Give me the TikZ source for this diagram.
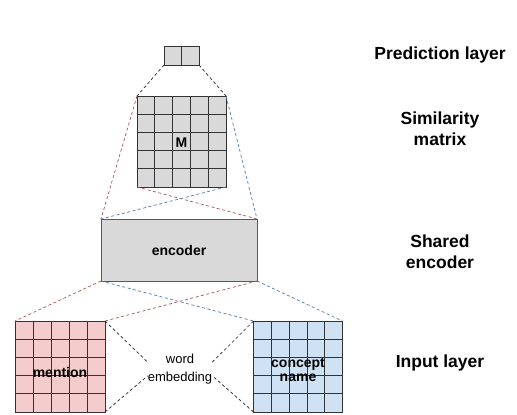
\documentclass[tikz,border=0pt]{standalone}
\usepackage{fontspec}
\setmainfont{Liberation Sans}
\usepackage{xcolor}
\usetikzlibrary{calc}
\definecolor{cellgray}{HTML}{D9D9D9}
\definecolor{cellpink}{HTML}{F4CCCC}
\definecolor{cellblue}{HTML}{CFE2F3}
\definecolor{linered}{HTML}{A65454}
\definecolor{lineblue}{HTML}{4F7CA3}
\tikzset{gridbox/.style={draw=black!80,line width=0.8pt,inner sep=0pt,outer sep=0pt},
 gridline/.style={draw=black!80,line width=0.8pt},
 link/.style={line width=0.7pt,dash pattern=on 3pt off 2.5pt},
 blacklink/.style={link,draw=black!85},
 redlink/.style={link,draw=linered},
 bluelink/.style={link,draw=lineblue},
 inlabel/.style={font=\fontsize{14}{16}\selectfont\bfseries,align=center},
 sidelabel/.style={font=\fontsize{17.5}{21}\selectfont\bfseries,align=center},
 }

\begin{document}
\begin{tikzpicture}[x=1pt,y=-1pt]
        \useasboundingbox (0,0) rectangle (517,415);

        % boxes
        \node[gridbox,fill=cellgray,minimum width=35pt,minimum height=19pt] (pred) at (181.5,55.5) {};
        \draw[gridline] (pred.north) -- (pred.south);

        \node[gridbox,fill=cellgray,minimum width=89pt,minimum height=91pt] (sim) at (181.5,141.5) {};
        \node[gridbox,fill=cellpink,minimum width=90pt,minimum height=91pt] (ment) at (60,366.5) {};
        \node[gridbox,fill=cellblue,minimum width=89pt,minimum height=91pt] (conc) at (298,366.5) {};
        \foreach \m in {sim,ment,conc}
            \foreach \i in {1,...,4} {
                \draw[gridline] ($(\m.north west)!\i/5!(\m.north east)$) -- ($(\m.south west)!\i/5!(\m.south east)$);
                \draw[gridline] ($(\m.north west)!\i/5!(\m.south west)$) -- ($(\m.north east)!\i/5!(\m.south east)$);
            }
        \node[inlabel] (simtext) at ($(sim.center)+(0,1.5)$) {M};
        \node[inlabel] (menttext) at ($(ment.center)+(0,5.5)$) {mention};
        \node[inlabel,inner sep=0pt] (conctext) at ($(conc.center)+(0,3)$) {concept\\[-2pt]name};

        \node[gridbox,fill=cellgray,draw=black!65,minimum width=156pt,minimum height=62pt,inlabel] (enc) at (179,250) {encoder};

        \node[align=center,font=\fontsize{13}{18}\selectfont,inner sep=0pt] (emb) at (180,369) {word\\embedding};

        % connectors
        \draw[blacklink] (pred.south west) -- (sim.north west);
        \draw[blacklink] (pred.south east) -- (sim.north east);

        \draw[redlink] (sim.north west) -- (enc.north west);
        \draw[redlink] (sim.south west) -- (enc.north east);
        \draw[bluelink] (sim.north east) -- (enc.north east);
        \draw[bluelink] (sim.south east) -- (enc.north west);

        \draw[redlink] (enc.south west) -- (ment.north west);
        \draw[redlink] (enc.south east) -- (ment.north east);
        \draw[bluelink] (enc.south west) -- (conc.north west);
        \draw[bluelink] (enc.south east) -- (conc.north east);

        \draw[blacklink] (ment.north east) -- (emb.168);
        \draw[blacklink] (ment.south east) -- (emb.192);
        \draw[blacklink] (conc.north west) -- (emb.12);
        \draw[blacklink] (conc.south west) -- (emb.348);

        % layer names
        \node[sidelabel] (predname) at (440,55) {Prediction layer};
        \node[sidelabel] (simname) at (440,129) {Similarity\\matrix};
        \node[sidelabel] (encname) at (440,252) {Shared\\encoder};
        \node[sidelabel] (inname) at (440,363) {Input layer};
\end{tikzpicture}
\end{document}
